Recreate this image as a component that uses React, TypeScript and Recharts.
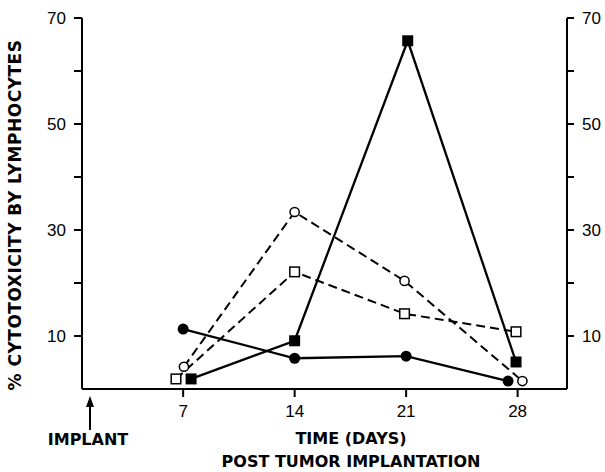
import React from "react";
import { LineChart, Line, XAxis, YAxis } from "recharts";

// days after implant / % cytotoxicity
const filledCircles = [
  { x: 7, y: 11.3 },
  { x: 14, y: 5.8 },
  { x: 21, y: 6.2 },
  { x: 27.4, y: 1.5 },
];
const filledSquares = [
  { x: 7.5, y: 1.9 },
  { x: 14, y: 9.1 },
  { x: 21.1, y: 65.7 },
  { x: 27.9, y: 5.1 },
];
const openCircles = [
  { x: 7.05, y: 4.2 },
  { x: 14, y: 33.4 },
  { x: 20.9, y: 20.4 },
  { x: 28.3, y: 1.5 },
];
const openSquares = [
  { x: 6.55, y: 1.9 },
  { x: 14, y: 22.1 },
  { x: 20.9, y: 14.2 },
  { x: 27.9, y: 10.8 },
];

const dayTicks = [7, 14, 21, 28];
const pctTicks = [10, 20, 30, 40, 50, 60, 70];
const labelledPct = [10, 30, 50, 70];

const FONT = "'DejaVu Sans', sans-serif";
const NUM_FONT = "'Liberation Sans', Arial, sans-serif";

const fmtPct = (v: number) => (labelledPct.includes(v) ? String(v) : "");

const dotFilledCircle = (p: any) => (
  <circle key={`fc${p.index}`} cx={p.cx} cy={p.cy} r={5.5} fill="#000" />
);
const dotOpenCircle = (p: any) => (
  <circle key={`oc${p.index}`} cx={p.cx} cy={p.cy} r={4.6} fill="#fff" stroke="#000" strokeWidth={1.5} />
);
const dotFilledSquare = (p: any) => (
  <rect key={`fs${p.index}`} x={p.cx - 5.5} y={p.cy - 5.5} width={11} height={11} fill="#000" />
);
const dotOpenSquare = (p: any) => (
  <rect key={`os${p.index}`} x={p.cx - 4.8} y={p.cy - 4.8} width={9.6} height={9.6} fill="#fff" stroke="#000" strokeWidth={1.5} />
);

function ExtraText() {
  return (
    <g fontFamily={FONT} fontWeight="bold" fill="#000">
      <text x={351} y={444} fontSize={16} textAnchor="middle">
        TIME (DAYS)
      </text>
      <text x={351} y={467} fontSize={16} textAnchor="middle">
        POST TUMOR IMPLANTATION
      </text>
      <text x={88} y={445} fontSize={16} textAnchor="middle">
        IMPLANT
      </text>
      <line x1={90} y1={430} x2={90} y2={404} stroke="#000" strokeWidth={2} />
      <polygon points="90,396 86,407 94,407" fill="#000" />
      <text
        x={0}
        y={0}
        fontSize={17}
        letterSpacing={0.5}
        textAnchor="middle"
        transform="translate(21,215) rotate(-90)"
      >
        % CYTOTOXICITY BY LYMPHOCYTES
      </text>
    </g>
  );
}

export default function App() {
  const axisLine = { stroke: "#000", strokeWidth: 2 };
  const tickLine = { stroke: "#000", strokeWidth: 2 };
  const tickStyle = { fill: "#000", fontSize: 17, fontFamily: NUM_FONT };
  return (
    <div style={{ position: "absolute", left: 0, top: 0, background: "#fff" }}>
      <LineChart
        width={605}
        height={472}
        margin={{ top: 18, right: 0, left: 22, bottom: 53 }}
      >
        <XAxis
          dataKey="x"
          type="number"
          domain={[0.65, 31.1]}
          allowDataOverflow
          ticks={dayTicks}
          axisLine={axisLine}
          tickLine={tickLine}
          tickSize={8}
          tickMargin={8}
          tick={tickStyle}
          height={30}
          label={<ExtraText />}
        />
        <YAxis
          yAxisId="left"
          domain={[0, 70]}
          ticks={pctTicks}
          tickFormatter={fmtPct}
          axisLine={axisLine}
          tickLine={tickLine}
          tickSize={8}
          tickMargin={8}
          tick={tickStyle}
          width={60}
          allowDataOverflow
        />
        <YAxis
          yAxisId="right"
          orientation="right"
          domain={[0, 70]}
          ticks={pctTicks}
          tickFormatter={fmtPct}
          axisLine={axisLine}
          tickLine={tickLine}
          tickSize={7}
          tickMargin={8}
          tick={tickStyle}
          width={38}
          allowDataOverflow
        />
        <Line
          yAxisId="left"
          data={openSquares}
          dataKey="y"
          stroke="#000"
          strokeWidth={2}
          strokeDasharray="9 5"
          dot={dotOpenSquare}
          isAnimationActive={false}
        />
        <Line
          yAxisId="left"
          data={openCircles}
          dataKey="y"
          stroke="#000"
          strokeWidth={2}
          strokeDasharray="9 5"
          dot={dotOpenCircle}
          isAnimationActive={false}
        />
        <Line
          yAxisId="left"
          data={filledCircles}
          dataKey="y"
          stroke="#000"
          strokeWidth={2.3}
          dot={dotFilledCircle}
          isAnimationActive={false}
        />
        <Line
          yAxisId="left"
          data={filledSquares}
          dataKey="y"
          stroke="#000"
          strokeWidth={2.3}
          dot={dotFilledSquare}
          isAnimationActive={false}
        />
      </LineChart>
    </div>
  );
}
